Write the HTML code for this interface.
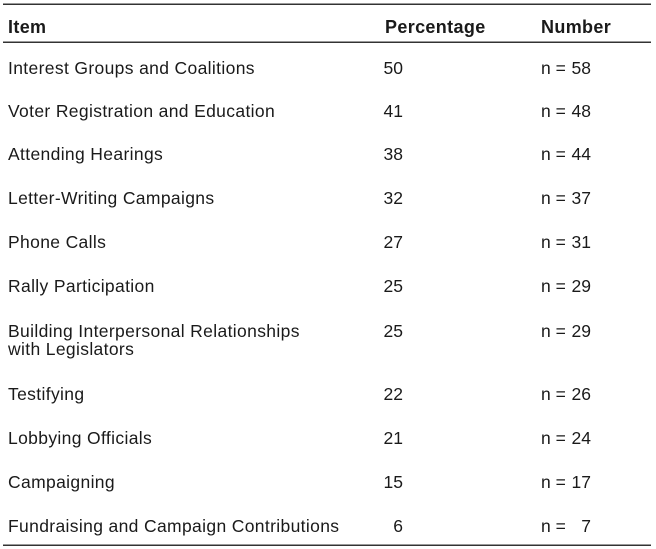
<!DOCTYPE html>
<html><head><meta charset="utf-8"><style>
html,body{margin:0;padding:0;background:#fff;}
svg{display:block;}
text{font-family:"Liberation Sans",Arial,sans-serif;fill:#1a1a1a;}
.h{font-weight:bold;font-size:18px;letter-spacing:0.35px;}
.r{font-size:17.5px;letter-spacing:0.35px;}
.n{font-size:17.5px;}
</style></head><body>
<svg width="656" height="549" viewBox="0 0 656 549" xmlns="http://www.w3.org/2000/svg">
<rect x="3" y="3.5" width="648" height="1.5" fill="#333"/>
<rect x="3" y="41.5" width="648" height="1.5" fill="#333"/>
<rect x="3" y="544.5" width="648" height="1.5" fill="#333"/>

<text class="h" x="8" y="33">Item</text>
<text class="h" x="385" y="33">Percentage</text>
<text class="h" x="541" y="33">Number</text>

<g class="r">
<text x="8" y="74">Interest Groups and Coalitions</text>
<text x="8" y="117">Voter Registration and Education</text>
<text x="8" y="160">Attending Hearings</text>
<text x="8" y="204">Letter-Writing Campaigns</text>
<text x="8" y="248">Phone Calls</text>
<text x="8" y="292">Rally Participation</text>
<text x="8" y="337">Building Interpersonal Relationships</text>
<text x="8" y="355">with Legislators</text>
<text x="8" y="400">Testifying</text>
<text x="8" y="444">Lobbying Officials</text>
<text x="8" y="488">Campaigning</text>
<text x="8" y="532">Fundraising and Campaign Contributions</text>
</g>

<g class="n" text-anchor="end">
<text x="403" y="74">50</text>
<text x="403" y="117">41</text>
<text x="403" y="160">38</text>
<text x="403" y="204">32</text>
<text x="403" y="248">27</text>
<text x="403" y="292">25</text>
<text x="403" y="337">25</text>
<text x="403" y="400">22</text>
<text x="403" y="444">21</text>
<text x="403" y="488">15</text>
<text x="403" y="532">6</text>
</g>

<g class="n">
<text x="541" y="74">n =</text>
<text x="541" y="117">n =</text>
<text x="541" y="160">n =</text>
<text x="541" y="204">n =</text>
<text x="541" y="248">n =</text>
<text x="541" y="292">n =</text>
<text x="541" y="337">n =</text>
<text x="541" y="400">n =</text>
<text x="541" y="444">n =</text>
<text x="541" y="488">n =</text>
<text x="541" y="532">n =</text>
</g>
<g class="n" text-anchor="end">
<text x="591" y="74">58</text>
<text x="591" y="117">48</text>
<text x="591" y="160">44</text>
<text x="591" y="204">37</text>
<text x="591" y="248">31</text>
<text x="591" y="292">29</text>
<text x="591" y="337">29</text>
<text x="591" y="400">26</text>
<text x="591" y="444">24</text>
<text x="591" y="488">17</text>
<text x="591" y="532">7</text>
</g>
</svg>
</body></html>
